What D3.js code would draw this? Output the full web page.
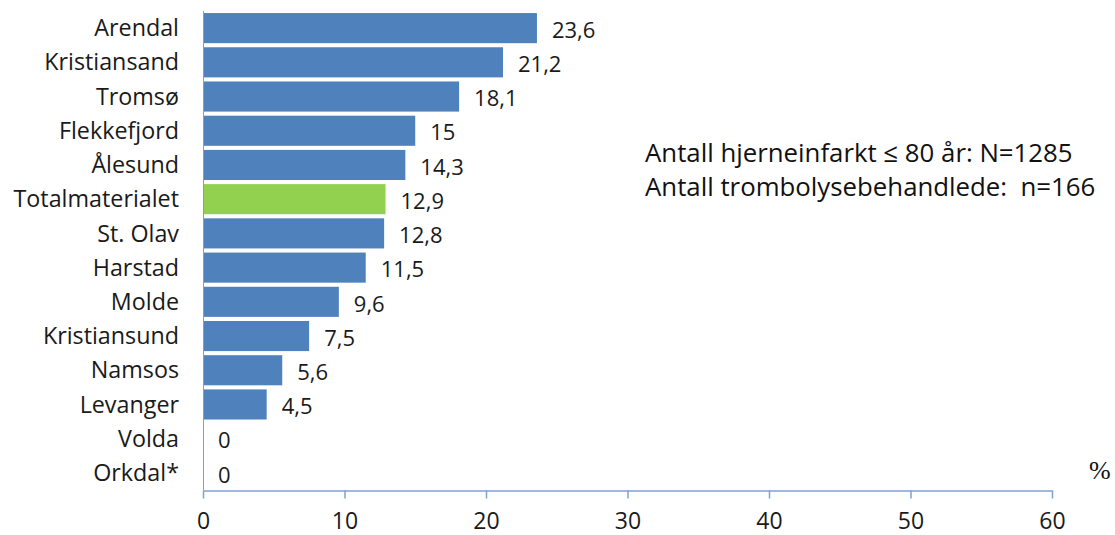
<!DOCTYPE html>
<html><head><meta charset="utf-8">
<script src="https://cdn.jsdelivr.net/npm/d3@7"></script>
<style>body{margin:0;background:#fff;}svg{display:block;}</style>
</head><body>
<svg id="c" width="1115" height="535"></svg>
<script>
const categories = ["Arendal","Kristiansand","Tromsø","Flekkefjord","Ålesund","Totalmaterialet","St. Olav","Harstad","Molde","Kristiansund","Namsos","Levanger","Volda","Orkdal*"];
const values = [23.6,21.2,18.1,15,14.3,12.9,12.8,11.5,9.6,7.5,5.6,4.5,0,0];
const highlight = ["Totalmaterialet"];
const xTicks = [0,10,20,30,40,50,60];
const notes = ["Antall hjerneinfarkt ≤ 80 år: N=1285","Antall trombolysebehandlede:  n=166"];

const svg = d3.select("#c");
const font = "'Open Sans', sans-serif";
const x = d3.scaleLinear().domain([0,60]).range([203,1052]);
const y = d3.scaleBand().domain(categories).range([11,490]).paddingInner(0.12).paddingOuter(0.06);

svg.append("g").selectAll("rect").data(categories).join("rect")
  .attr("x", x(0)).attr("y", d=>y(d)).attr("height", y.bandwidth())
  .attr("width", (d,i)=>x(values[i])-x(0))
  .attr("fill", d=>highlight.includes(d) ? "#92D050" : "#4F81BD");

svg.append("line").attr("x1",203.5).attr("x2",203.5).attr("y1",11).attr("y2",490).attr("stroke","#9a9a9a").attr("stroke-width",1);

svg.append("g").selectAll("text").data(categories).join("text")
  .attr("x",179).attr("y",d=>y(d)+y.bandwidth()/2).attr("dy","0.35em")
  .attr("text-anchor","end").attr("font-family",font).attr("font-size",23.3).attr("fill","#1a1a1a")
  .text(d=>d);

svg.append("g").selectAll("text").data(categories).join("text")
  .attr("x",(d,i)=>x(values[i])+15).attr("y",d=>y(d)+y.bandwidth()/2+2).attr("dy","0.35em")
  .attr("font-family",font).attr("font-size",22).attr("fill","#1a1a1a")
  .text((d,i)=>String(values[i]).replace(".",","));

const xa = svg.append("g").attr("transform","translate(0,490.5)")
  .call(d3.axisBottom(x).tickValues(xTicks).tickSize(8).tickSizeOuter(0).tickPadding(14));
xa.select(".domain").attr("stroke","#7FA0D2").attr("stroke-width",1.5);
xa.selectAll(".tick line").attr("stroke","#7FA0D2").attr("stroke-width",1.5);
xa.selectAll(".tick text").attr("font-family",font).attr("font-size",23).attr("fill","#1a1a1a");

svg.append("text").attr("x",1089).attr("y",479).attr("font-family","'Liberation Serif', serif").attr("font-size",26).attr("fill","#111").text("%");

svg.append("g").selectAll("text").data(notes).join("text")
  .attr("x",645).attr("y",(d,i)=>162+i*34).attr("font-family",font).attr("font-size",25.8).attr("fill","#111")
  .attr("xml:space","preserve").style("white-space","pre").text(d=>d);
</script>
</body></html>
